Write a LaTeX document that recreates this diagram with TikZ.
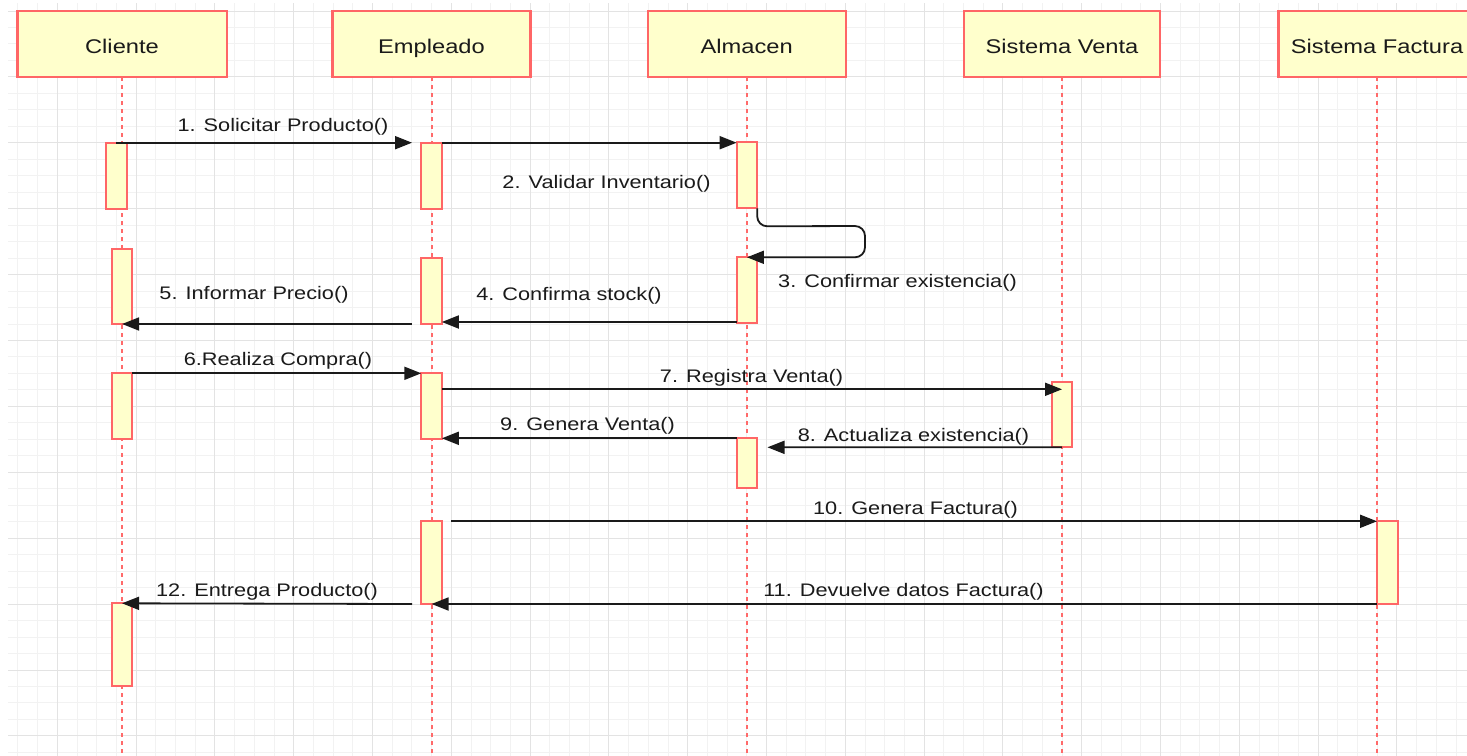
\documentclass[tikz,border=0pt]{standalone}
\usepackage{fontspec}
\setmainfont{Liberation Sans}[FakeStretch=1.196]
\usetikzlibrary{arrows.meta}

\definecolor{gridmajor}{HTML}{E3E3E3}
\definecolor{gridminor}{HTML}{F2F2F2}
\definecolor{boxfill}{HTML}{FFFFCC}
\definecolor{boxline}{HTML}{FF6666}
\definecolor{lifered}{HTML}{FF6A6A}
\definecolor{ink}{HTML}{1A1A1A}

\tikzset{
  head/.style={draw=boxline, fill=boxfill, line width=1.2pt, inner sep=0pt, outer sep=0pt,
    minimum height=33pt, text height=9.4pt, text depth=0pt,
    text=ink, font=\fontsize{9.9pt}{12pt}\selectfont},
  actbar/.style={draw=boxline, fill=boxfill, line width=1pt, inner sep=0pt, outer sep=0pt,
    minimum width=10.25pt, anchor=north west},
  lifeln/.style={draw=lifered, line width=1pt, dash pattern=on 2.2pt off 1.8pt},
  msg/.style={draw=ink, line width=0.9pt, -{Triangle[length=8.5pt,width=6.5pt]}},
  lbl/.style={inner sep=0pt, yshift=-1pt, text=ink, font=\fontsize{9.08pt}{11pt}\selectfont},
  gminor/.style={draw=gridminor, line width=0.5pt},
  gmajor/.style={draw=gridmajor, line width=0.5pt}
}

\begin{document}
\begin{tikzpicture}[x=0.5pt, y=-0.5pt]
  % page and background
  \fill[white] (0,0) rectangle (1467,755);
  \useasboundingbox (0,0) rectangle (1467,755);

  % background grid
  \begin{scope}
    \clip (8,3) rectangle (1467,755);
    \foreach \i in {-3,...,72} {
      \pgfmathsetmacro\gx{57.3+19.7*\i}
      \draw[gminor] (\gx,0) -- (\gx,760);
    }
    \foreach \j in {-1,...,46} {
      \pgfmathsetmacro\gy{11+16.475*\j}
      \draw[gminor] (0,\gy) -- (1470,\gy);
    }
    \foreach \i in {-1,...,18} {
      \pgfmathsetmacro\gx{57.3+78.8*\i}
      \draw[gmajor] (\gx,0) -- (\gx,760);
    }
    \foreach \j in {0,...,11} {
      \pgfmathsetmacro\gy{11+65.9*\j}
      \draw[gmajor] (0,\gy) -- (1470,\gy);
    }
  \end{scope}

  % participants
  \node[head, minimum width=104.7pt] (cliente)  at (122,44)    {Cliente};
  \node[head, minimum width=99pt]    (empleado) at (431.5,44)  {Empleado};
  \node[head, minimum width=99pt]    (almacen)  at (746.75,44) {Almacen};
  \node[head, minimum width=98pt]    (venta)    at (1062,44)   {Sistema Venta};
  \node[head, minimum width=98.7pt]  (factura)  at (1377,44)   {Sistema Factura};

  % lifelines
  \coordinate (bottom) at (0,756);
  \foreach \p in {cliente,empleado,almacen,venta,factura}
    \draw[lifeln] (\p.south) -- (\p.south |- bottom);

  % activation bars
  \node[actbar, minimum height=33.15pt] (C1) at (106,142.7)   {};
  \node[actbar, minimum height=33.15pt] (E1) at (421.3,142.7) {};
  \node[actbar, minimum height=33pt]    (A1) at (736.7,142.3) {};
  \node[actbar, minimum height=37.35pt] (C2) at (111.8,249.3) {};
  \node[actbar, minimum height=33.15pt] (E2) at (421.3,257.7) {};
  \node[actbar, minimum height=33pt]    (A2) at (736.7,257.3) {};
  \node[actbar, minimum height=32.85pt] (C3) at (111.8,373.3) {};
  \node[actbar, minimum height=32.85pt] (E3) at (421.3,373.3) {};
  \node[actbar, minimum height=32.8pt]  (V1) at (1051.8,381.7) {};
  \node[actbar, minimum height=25pt]    (A3) at (736.5,438.3) {};
  \node[actbar, minimum height=41.35pt] (E4) at (421.3,521.3) {};
  \node[actbar, minimum height=41.35pt] (F1) at (1377,521.3)  {};
  \node[actbar, minimum height=41.35pt] (C4) at (111.8,603.3) {};

  % free message ends
  \coordinate (m1a)  at (116,142.7);
  \coordinate (m1b)  at (412,142.7);
  \coordinate (m3r)  at (865,0);
  \coordinate (m4)   at (0,322);
  \coordinate (m5a)  at (411.7,324);
  \coordinate (m7)   at (0,389.3);
  \coordinate (m8b)  at (767.5,447.3);
  \coordinate (m10a) at (451,521.3);
  \coordinate (m12a) at (412,604);

  % messages
  \draw[msg] (m1a) -- (m1b);
  \draw[msg] (E1.north east) -- (E1.north east -| A1.west);
  \draw[msg, rounded corners=5pt] (A1.south east) -- ++(0,18) -- (m3r |- 0,226)
        -- (m3r |- A2.north) -- (A2.north);
  \draw[msg] (A2.west |- m4) -- (E2.east |- m4);
  \draw[msg] (m5a) -- (C2.south);
  \draw[msg] (C3.north east) -- (C3.north east -| E3.west);
  \draw[msg] (E3.east |- m7) -- (venta |- m7);
  \draw[msg] (V1.south) -- (m8b);
  \draw[msg] (A3.north west) -- (A3.north west -| E3.east);
  \draw[msg] (m10a) -- (F1.north west);
  \draw[msg] (F1.south west) -- (E4.south);
  \draw[msg] (m12a) -- (C4.north);

  % message labels
  \node[lbl] (t1)  at (283,125)   {1. Solicitar Producto()};
  \node[lbl] (t2)  at (606.5,182) {2. Validar Inventario()};
  \node[lbl] (t3)  at (897.5,281) {3. Confirmar existencia()};
  \node[lbl] (t4)  at (569,293.3) {4. Confirma stock()};
  \node[lbl] (t5)  at (254,293)   {5. Informar Precio()};
  \node[lbl] (t6)  at (278,359.3) {6.Realiza Compra()};
  \node[lbl] (t7)  at (751.5,376) {7. Registra Venta()};
  \node[lbl] (t8)  at (913.5,435) {8. Actualiza existencia()};
  \node[lbl] (t9)  at (587.5,424) {9. Genera Venta()};
  \node[lbl] (t10) at (915.5,508) {10. Genera Factura()};
  \node[lbl] (t11) at (903.5,590) {11. Devuelve datos Factura()};
  \node[lbl] (t12) at (267,590)   {12. Entrega Producto()};
\end{tikzpicture}
\end{document}
